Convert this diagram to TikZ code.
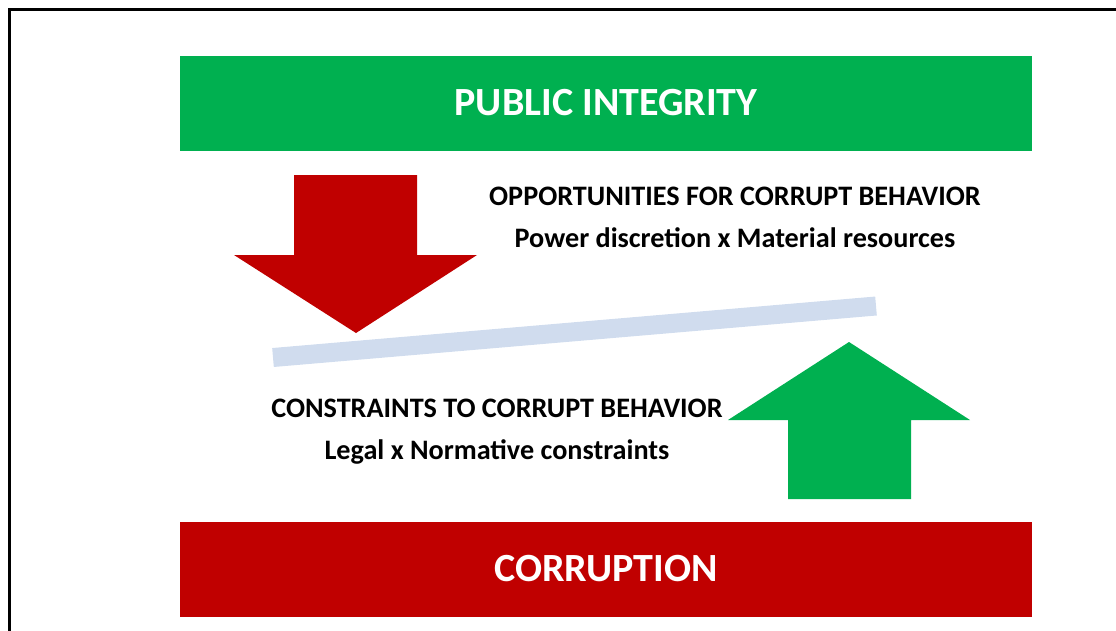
\documentclass[tikz,border=0pt]{standalone}
\usepackage{fontspec}
\setmainfont{Carlito}
\definecolor{pgreen}{HTML}{00B050}
\definecolor{pred}{HTML}{C00000}
\definecolor{pbar}{HTML}{D0DCEE}
\begin{document}
\begin{tikzpicture}[x=1pt,y=-1pt,
  band/.style={inner sep=0pt, minimum width=852pt, minimum height=95pt, text=white, font=\bfseries\fontsize{40}{46}\selectfont},
  label/.style={align=center, font=\bfseries\fontsize{28.2}{42}\selectfont, text=black}]
\useasboundingbox (0,0) rectangle (1116,630);
\draw[line width=2.2pt] (1120,9.5) -- (9.5,9.5) -- (9.5,640);
\node[band, fill=pgreen] (pi) at (606,103) {PUBLIC INTEGRITY};
\node[band, fill=pred] (co) at (606,569) {CORRUPTION};
\fill[pred] (294,175) -- (417,175) -- (417,255) -- (477,255) -- (356,333) -- (234,255) -- (294,255) -- cycle;
\fill[pgreen] (788,499) -- (911,499) -- (911,420) -- (970,420) -- (849,342) -- (728,420) -- (788,420) -- cycle;
\draw[pbar, line width=19pt] (273,357.5) -- (876,306);
\node[label] (opp) at (735,217) {OPPORTUNITIES FOR CORRUPT BEHAVIOR\\Power discretion x Material resources};
\node[label] (con) at (497,432) {CONSTRAINTS TO CORRUPT BEHAVIOR\\Legal x Normative constraints};
\end{tikzpicture}
\end{document}
